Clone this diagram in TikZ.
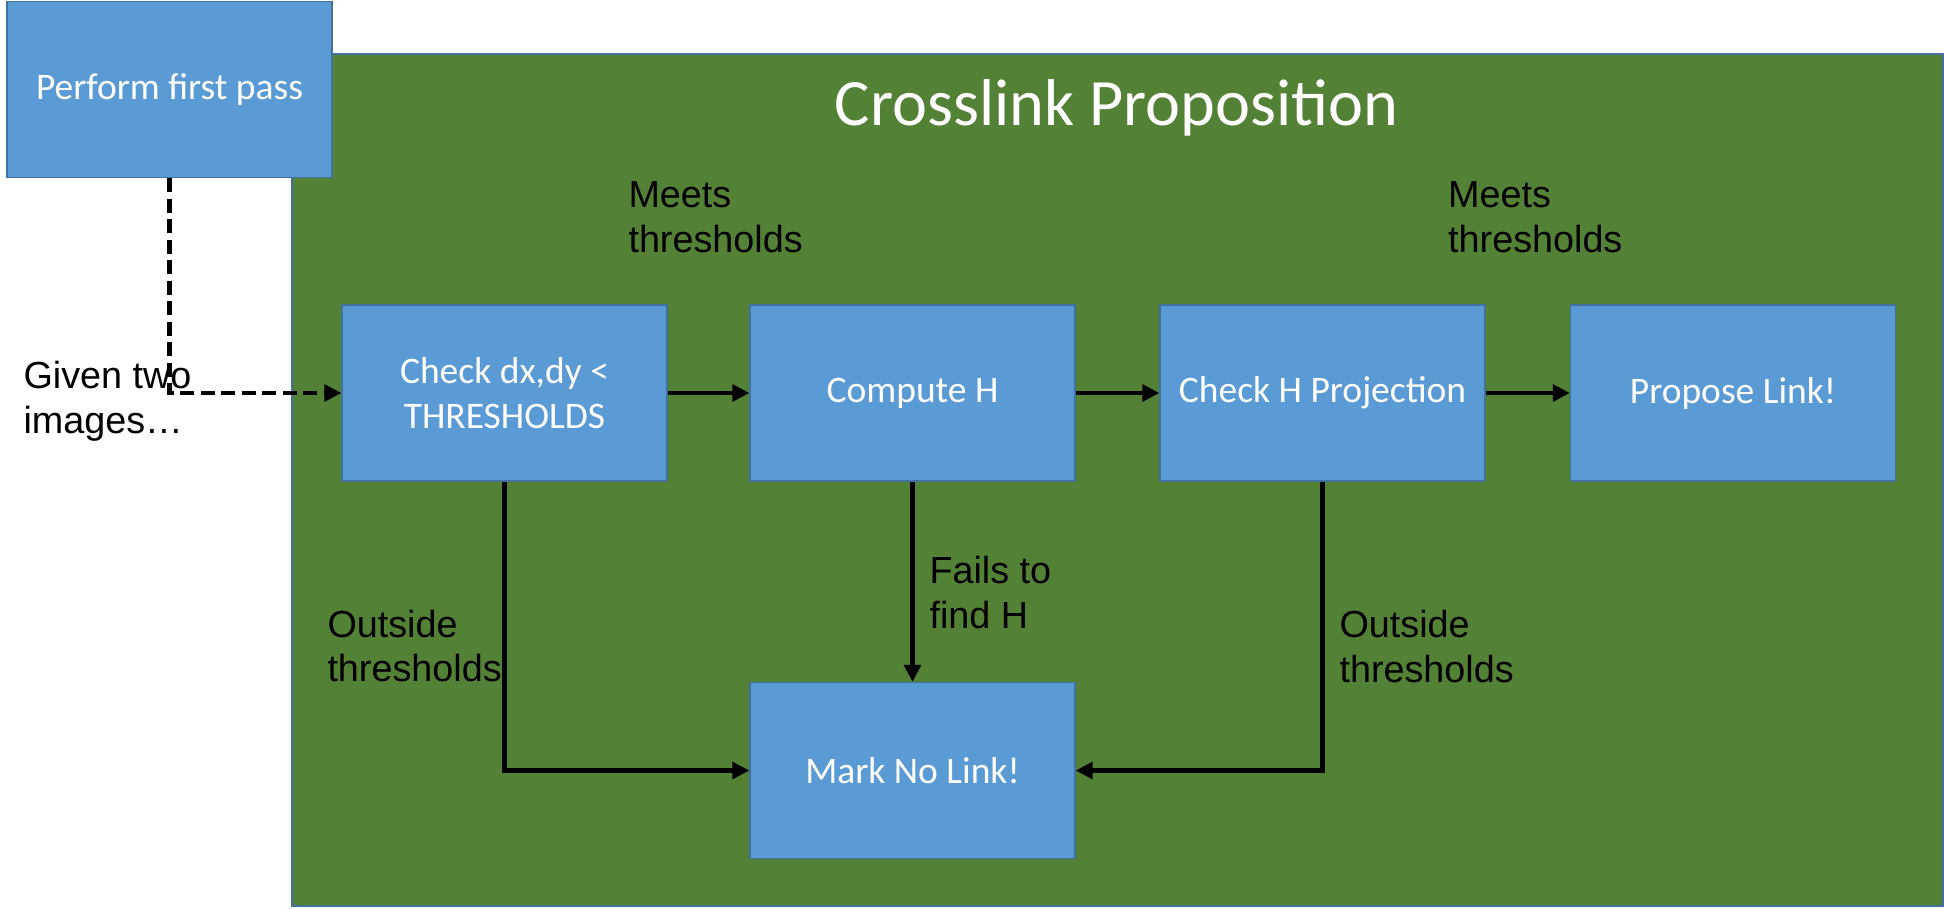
\documentclass[tikz,border=0pt]{standalone}
\usepackage{fontspec}
\setmainfont{Carlito}
\newfontfamily\labelfont{Liberation Sans}
\usetikzlibrary{arrows.meta}
\definecolor{panelgreen}{HTML}{538135}
\definecolor{boxblue}{HTML}{5B9BD5}
\definecolor{edgeblue}{HTML}{41719C}
\tikzset{
  procbox/.style={draw=edgeblue, line width=0.5pt, fill=boxblue, text=white,
    minimum width=130pt, minimum height=70.4pt, inner sep=0pt, align=center,
    font=\fontsize{15}{18.2}\selectfont},
  lbl/.style={inner sep=0pt, anchor=base west, align=left, text=black,
    font=\labelfont\fontsize{15.1}{17.85}\selectfont},
  flow/.style={line width=1.9pt, -{Triangle[length=6.8pt,width=6.6pt]}},
  dflow/.style={flow, dash pattern=on 5.6pt off 2.6pt}
}
\begin{document}
\begin{tikzpicture}[x=0.4pt,y=-0.4pt]
\useasboundingbox (0,0) rectangle (1944,908);
\fill[white] (0,0) rectangle (1944,908);
% panel
\draw[draw=edgeblue, line width=0.5pt, fill=panelgreen] (292,54) rectangle (1943,906);
\node[inner sep=0pt, anchor=base, text=white, font=\fontsize{26.5}{30}\selectfont] (title) at (1116.5,125) {Crosslink Proposition};
% boxes
\node[procbox] (first) at (169.5,89.5) {Perform first pass};
\node[procbox] (b1) at (504.5,393) {Check dx,dy <\\THRESHOLDS};
\node[procbox] (b2) at (912.5,393) {Compute H};
\node[procbox] (b3) at (1322.5,393) {Check H Projection};
\node[procbox] (b4) at (1733,393) {Propose Link!};
\node[procbox] (mark) at (912.5,770.5) {Mark No Link!};
% labels (anchor = baseline of last line)
\node[lbl] (given) at (23,433) {Given two\\images…};
\node[lbl] (meets1) at (628,252.3) {Meets\\thresholds};
\node[lbl] (meets2) at (1447.7,252.3) {Meets\\thresholds};
\node[lbl] (out1) at (327,681.7) {Outside\\thresholds};
\node[lbl] (fails) at (929,628) {Fails to\\find H};
\node[lbl] (out2) at (1339,682) {Outside\\thresholds};
% connectors
\draw[dflow] (first.south) |- (b1.west);
\draw[flow] (b1.east) -- (b2.west);
\draw[flow] (b2.east) -- (b3.west);
\draw[flow] (b3.east) -- (b4.west);
\draw[flow] (b2.south) -- (mark.north);
\draw[flow] (b1.south) |- (mark.west);
\draw[flow] (b3.south) |- (mark.east);
\end{tikzpicture}
\end{document}
